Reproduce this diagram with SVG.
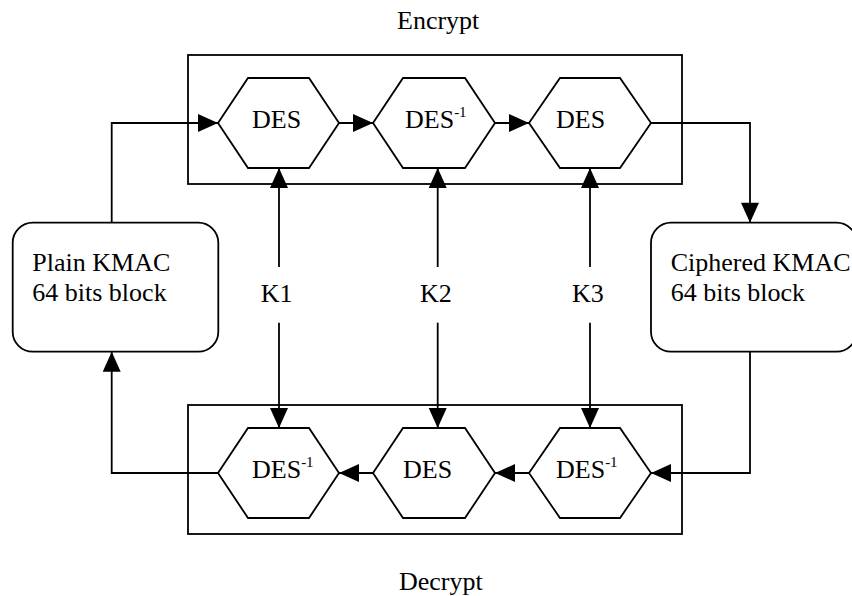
<svg xmlns="http://www.w3.org/2000/svg" width="852" height="596" viewBox="0 0 852 596">
  <style>
    .shape { fill: #fff; stroke: #000; stroke-width: 1.8; }
    .frame { fill: none; stroke: #000; stroke-width: 1.8; }
    .wire { fill: none; stroke: #000; stroke-width: 1.8; }
    .arrow { marker-end: url(#head); }
    text { font-family: "Liberation Serif", "Times New Roman", serif; font-size: 26px; fill: #000; }
    .sup { font-size: 15px; }
  </style>
  <defs>
    <marker id="head" markerUnits="userSpaceOnUse" markerWidth="20" markerHeight="18" refX="20" refY="9" orient="auto" overflow="visible">
      <path d="M0,0 L20,9 L0,18 Z" fill="#000"/>
    </marker>
  </defs>

  <rect width="852" height="596" fill="#fff"/>

  <!-- stage frames -->
  <g id="encrypt-frame">
    <rect class="frame" x="188" y="55" width="494" height="129"/>
    <text x="397" y="28.5">Encrypt</text>
  </g>
  <g id="decrypt-frame">
    <rect class="frame" x="188" y="405" width="494" height="129"/>
    <text x="399" y="590">Decrypt</text>
  </g>

  <!-- encryption chain -->
  <g id="enc-des1">
    <polygon class="shape" points="218,123 248,78 309,78 339,123 309,168 248,168"/>
    <text x="252" y="128.3">DES</text>
  </g>
  <g id="enc-des2">
    <polygon class="shape" points="373,123 403,78 465,78 495,123 465,168 403,168"/>
    <text x="405" y="128.3">DES<tspan class="sup" dy="-11">-1</tspan></text>
  </g>
  <g id="enc-des3">
    <polygon class="shape" points="529,123 560,78 620,78 651,123 620,168 560,168"/>
    <text x="556" y="128.3">DES</text>
  </g>

  <!-- decryption chain -->
  <g id="dec-des1">
    <polygon class="shape" points="218,473 248,428 309,428 339,473 309,518 248,518"/>
    <text x="252" y="478.3">DES<tspan class="sup" dy="-11">-1</tspan></text>
  </g>
  <g id="dec-des2">
    <polygon class="shape" points="373,473 403,428 465,428 495,473 465,518 403,518"/>
    <text x="403" y="478.3">DES</text>
  </g>
  <g id="dec-des3">
    <polygon class="shape" points="529,473 560,428 620,428 651,473 620,518 560,518"/>
    <text x="556" y="478.3">DES<tspan class="sup" dy="-11">-1</tspan></text>
  </g>

  <!-- data blocks -->
  <g id="plain-block">
    <rect class="shape" x="12.7" y="222.7" width="205.6" height="129" rx="20" ry="20"/>
    <text x="32.3" y="271">Plain KMAC</text>
    <text x="32.3" y="301">64 bits block</text>
  </g>
  <g id="ciphered-block">
    <rect class="shape" x="651" y="222.7" width="205.6" height="129" rx="20" ry="20"/>
    <text x="670.7" y="271">Ciphered KMAC</text>
    <text x="670.7" y="301">64 bits block</text>
  </g>

  <!-- key labels -->
  <g id="key1"><text x="260.7" y="301.7">K1</text></g>
  <g id="key2"><text x="420" y="301.7">K2</text></g>
  <g id="key3"><text x="572" y="301.7">K3</text></g>

  <!-- connectors -->
  <g id="connectors">
    <!-- encryption data path -->
    <polyline class="wire arrow" points="111.7,222.7 111.7,123 218,123"/>
    <line class="wire arrow" x1="339" y1="123" x2="373" y2="123"/>
    <line class="wire arrow" x1="495" y1="123" x2="529" y2="123"/>
    <polyline class="wire arrow" points="651,123 750,123 750,222.7"/>
    <!-- decryption data path -->
    <polyline class="wire arrow" points="750,351.7 750,473 651,473"/>
    <line class="wire arrow" x1="529" y1="473" x2="495" y2="473"/>
    <line class="wire arrow" x1="373" y1="473" x2="339" y2="473"/>
    <polyline class="wire arrow" points="218,473 111.7,473 111.7,351.7"/>
    <!-- key feeds, up to the encryption stage -->
    <line class="wire arrow" x1="279" y1="267" x2="279" y2="168"/>
    <line class="wire arrow" x1="437.7" y1="267" x2="437.7" y2="168"/>
    <line class="wire arrow" x1="590" y1="267" x2="590" y2="168"/>
    <!-- key feeds, down to the decryption stage -->
    <line class="wire arrow" x1="279" y1="322.7" x2="279" y2="428"/>
    <line class="wire arrow" x1="437.7" y1="322.7" x2="437.7" y2="428"/>
    <line class="wire arrow" x1="590" y1="322.7" x2="590" y2="428"/>
  </g>
</svg>
